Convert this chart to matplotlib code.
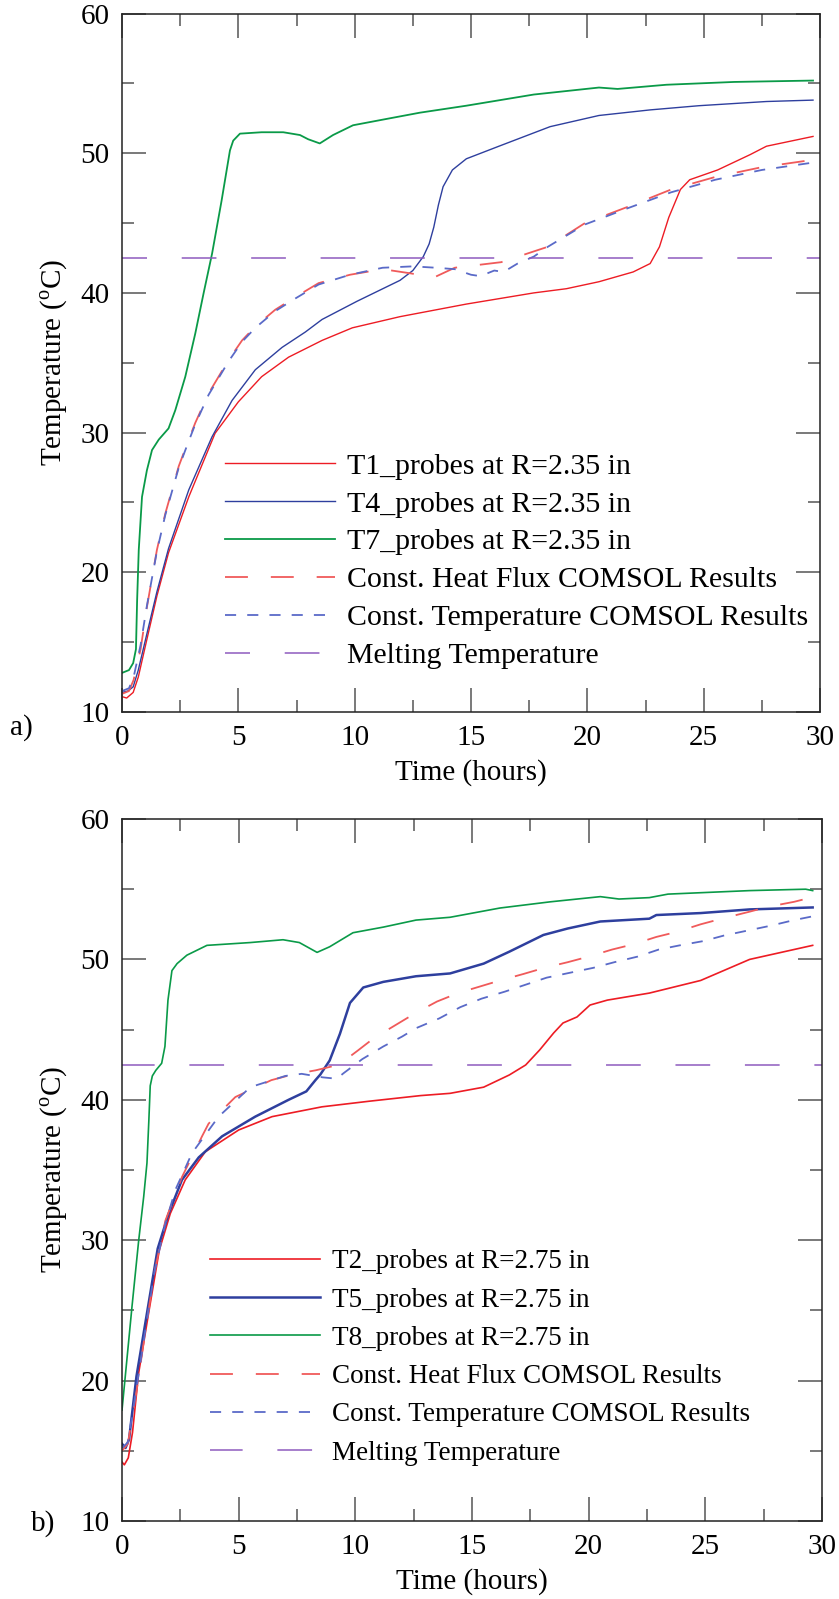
import numpy as np
import matplotlib
matplotlib.use('Agg')
import matplotlib.pyplot as plt

plt.rcParams['font.family'] = ['Liberation Serif', 'DejaVu Serif']
plt.rcParams['mathtext.fontset'] = 'custom'
plt.rcParams['mathtext.rm'] = 'Liberation Serif'
plt.rcParams['lines.scale_dashes'] = False

# ---------------- panel a) : R = 2.35 in ----------------
t_T1 = [0, 0.2, 0.48, 0.7, 1.07, 1.5, 2.0, 2.87, 4.0, 5.0, 6.0, 7.16, 8.6, 9.9, 11.95, 14.8, 17.7,
        19.1, 20.5, 21.97, 22.7, 23.1, 23.5, 24.0, 24.4, 25.6, 27.0, 27.7, 29.7]
T1 = [11.1, 11.0, 11.4, 12.5, 15.2, 18.3, 21.4, 25.4, 29.95, 32.2, 34.0, 35.4, 36.6, 37.5, 38.3, 39.2, 40.0,
      40.3, 40.8, 41.5, 42.1, 43.3, 45.4, 47.4, 48.1, 48.8, 49.9, 50.5, 51.2]

t_T4 = [0, 0.25, 0.48, 0.7, 1.07, 1.5, 2.0, 2.87, 3.87, 4.73, 5.73, 6.88, 7.88, 8.6, 10.1, 11.95, 12.5,
        12.95, 13.2, 13.4, 13.6, 13.8, 14.2, 14.8, 16.2, 18.4, 20.5, 22.7, 24.8, 27.7, 29.7]
T4 = [11.4, 11.5, 11.8, 13.0, 15.6, 18.6, 21.7, 25.9, 29.7, 32.3, 34.5, 36.1, 37.2, 38.1, 39.4, 40.9, 41.6,
      42.6, 43.5, 44.7, 46.3, 47.6, 48.8, 49.6, 50.5, 51.9, 52.7, 53.1, 53.4, 53.7, 53.8]

t_T7 = [0, 0.3, 0.48, 0.6, 0.65, 0.72, 0.86, 1.07, 1.29, 1.58, 2.0, 2.29, 2.72, 3.15, 3.51, 3.87, 4.28,
        4.64, 4.78, 5.07, 6.0, 6.93, 7.65, 8.0, 8.5, 9.07, 9.93, 11.2, 12.8, 14.8, 17.7, 20.5, 21.3,
        23.4, 26.3, 29.7]
T7 = [12.8, 13.0, 13.5, 14.5, 18.0, 21.6, 25.4, 27.3, 28.75, 29.5, 30.3, 31.6, 34.0, 37.1, 40.0, 42.8, 46.6,
      50.2, 50.9, 51.4, 51.5, 51.5, 51.3, 51.0, 50.7, 51.3, 52.0, 52.4, 52.9, 53.4, 54.2, 54.7, 54.6,
      54.9, 55.1, 55.2]

t_flux_a = [0, 0.3, 0.5, 0.8, 1.07, 1.5, 1.86, 2.44, 2.87, 3.15, 3.72, 4.15, 4.58, 5.16, 5.73, 6.59, 7.45,
            8.45, 9.8, 11.2, 12.4, 13.4, 14.3, 16.3, 18.3, 19.9, 21.8, 23.6, 25.5, 27.5, 30]
flux_a = [11.3, 11.5, 12.3, 14.5, 17.5, 21.6, 24.2, 27.6, 29.5, 30.7, 32.8, 34.0, 35.2, 36.6, 37.6, 38.8, 39.7,
          40.7, 41.3, 41.7, 41.4, 41.1, 41.8, 42.2, 43.3, 45.0, 46.2, 47.4, 48.3, 49.0, 49.6]

t_temp_a = [0, 0.3, 0.5, 0.8, 1.07, 1.5, 1.86, 2.44, 2.87, 3.15, 3.72, 4.15, 4.58, 5.16, 5.73, 6.59, 7.45,
            8.45, 9.8, 11.2, 12.5, 13.5, 14.3, 15.0, 15.4, 16.0, 16.4, 17.0, 17.7, 18.3, 19.9, 21.8,
            23.6, 25.5, 27.5, 30]
temp_a = [11.5, 11.7, 12.5, 14.8, 17.6, 21.5, 24.1, 27.5, 29.4, 30.6, 32.7, 33.9, 35.1, 36.5, 37.5, 38.7, 39.6,
          40.6, 41.3, 41.8, 41.9, 41.8, 41.7, 41.3, 41.2, 41.6, 41.5, 42.1, 42.6, 43.3, 44.9, 46.1,
          47.2, 48.1, 48.8, 49.4]

# ---------------- panel b) : R = 2.75 in ----------------
t_T2 = [0, 0.1, 0.27, 0.45, 0.71, 1.14, 1.6, 2.07, 2.71, 3.57, 5.0, 6.43, 8.57, 10.6, 12.8, 14.06, 15.5,
        16.6, 17.3, 17.9, 18.5, 18.9, 19.5, 20.06, 20.8, 22.6, 24.8, 26.9, 29.6]
T2 = [14.2, 14.0, 14.5, 16.3, 20.5, 24.8, 29.3, 31.9, 34.3, 36.3, 37.85, 38.8, 39.5, 39.9, 40.3, 40.46, 40.9,
      41.77, 42.48, 43.55, 44.76, 45.47, 45.9, 46.75, 47.1, 47.6, 48.5, 50.0, 51.0]

t_T5 = [0, 0.15, 0.3, 0.62, 1.07, 1.53, 2.0, 2.57, 3.29, 4.29, 5.71, 7.14, 7.9, 8.29, 8.5, 8.9, 9.34,
        9.77, 10.34, 11.2, 12.6, 14.06, 15.5, 16.6, 18.06, 19.1, 20.5, 22.6, 22.9, 24.8, 26.9, 29.6]
T5 = [15.5, 15.2, 15.8, 20.3, 24.8, 29.4, 31.9, 34.3, 35.9, 37.4, 38.8, 40.0, 40.6, 41.4, 41.8, 42.8, 44.7,
      46.9, 48.0, 48.4, 48.8, 49.0, 49.7, 50.55, 51.74, 52.2, 52.7, 52.9, 53.16, 53.3, 53.56, 53.7]

t_T8 = [0, 0.14, 0.43, 0.71, 0.93, 1.07, 1.15, 1.21, 1.3, 1.45, 1.7, 1.84, 1.97, 2.14, 2.36, 2.78, 3.64,
        5.5, 6.9, 7.6, 8.36, 8.9, 9.9, 11.2, 12.6, 14.06, 16.2, 18.35, 20.5, 21.3, 22.6, 23.4, 24.8,
        26.9, 29.3, 29.6]
T8 = [17.9, 20.3, 25.3, 29.9, 33.1, 35.5, 38.5, 41.0, 41.7, 42.1, 42.6, 43.8, 47.1, 49.2, 49.7, 50.3, 51.0,
      51.2, 51.4, 51.2, 50.5, 50.9, 51.9, 52.3, 52.8, 53.0, 53.66, 54.1, 54.47, 54.3, 54.4, 54.65, 54.75,
      54.9, 55.0, 54.9]

t_flux_b = [0, 0.25, 0.6, 1.0, 1.4, 1.86, 2.57, 3.43, 3.71, 4.86, 6.4, 7.3, 8.3, 9.3, 10.1, 10.8, 11.9,
            12.6, 13.5, 14.4, 15.3, 16.2, 17.2, 18.1, 19.1, 20.0, 21.0, 21.9, 22.9, 23.8, 24.8, 25.7,
            26.9, 27.7, 28.8, 30]
flux_b = [15.0, 15.5, 19.0, 23.5, 27.8, 31.4, 34.5, 37.4, 38.3, 40.2, 41.4, 41.8, 42.1, 42.5, 43.5, 44.4, 45.5,
          46.2, 47.0, 47.6, 48.05, 48.5, 48.96, 49.4, 49.8, 50.2, 50.7, 51.07, 51.6, 51.97, 52.5, 52.9,
          53.4, 53.75, 54.1, 54.6]

t_temp_b = [0, 0.25, 0.6, 1.0, 1.4, 1.86, 2.29, 3.0, 4.14, 5.5, 7.0, 7.7, 8.6, 9.2, 9.5, 10.3, 11.2,
            12.0, 12.6, 13.6, 14.5, 15.4, 16.4, 17.3, 18.2, 19.2, 20.2, 21.1, 22.1, 23.0, 23.9, 24.9,
            25.8, 26.8, 27.8, 28.8, 30]
temp_b = [15.2, 15.6, 19.2, 23.6, 27.8, 31.2, 33.6, 36.2, 38.8, 40.9, 41.7, 41.85, 41.6, 41.5, 41.9, 42.9, 43.8,
          44.5, 45.1, 45.8, 46.6, 47.2, 47.7, 48.2, 48.7, 49.05, 49.4, 49.8, 50.2, 50.7, 51.0, 51.3,
          51.7, 52.05, 52.4, 52.8, 53.2]

t_melt = [0, 30]
T_melt = [42.5, 42.5]

c_rosso = '#ed1c24'
c_blu = '#2e3f9e'
c_verde = '#0a9a48'
c_flux = '#f05a5a'
c_temp = '#5a6ac8'
c_melt = '#8e5bbf'

fig = plt.figure(figsize=(8.39, 15.99), dpi=100)
ax_a = fig.add_axes([122/839, 1-712/1599, 698/839, 698.5/1599])
ax_b = fig.add_axes([122/839, 1-1521/1599, 700/839, 702/1599])

pannelli = [
    (ax_a, 'a)', (10/839, 1-728/1599), 'R=2.35 in', ['T1', 'T4', 'T7'],
     [(t_T1, T1), (t_T4, T4), (t_T7, T7)], (t_flux_a, flux_a), (t_temp_a, temp_a),
     [1.0, 1.0, 1.3], 21.5, 0.37, (225/839, 1-561/1599), 7.0),
    (ax_b, 'b)', (31/839, 1-1524/1599), 'R=2.75 in', ['T2', 'T5', 'T8'],
     [(t_T2, T2), (t_T5, T5), (t_T8, T8)], (t_flux_b, flux_b), (t_temp_b, temp_b),
     [1.2, 1.8, 1.2], 19.5, 0.49, (210/839, 1-1357.5/1599), 1.5),
]

for ax, tag, tag_pos, raggio, nomi, misure, flux, temp, lws, fs_leg, spazio, leg_pos, off in pannelli:
    colori = [c_rosso, c_blu, c_verde]
    for (t, T), nome, col, lw in zip(misure, nomi, colori, lws):
        ax.plot(t, T, color=col, lw=lw, label=f'{nome}_probes at {raggio}')
    ax.plot(flux[0], flux[1], color=c_flux, lw=1.3, dashes=(16.5, 16.5),
            label='Const. Heat Flux COMSOL Results')
    ax.plot(temp[0], temp[1], color=c_temp, lw=1.3, dashes=(8, 8),
            label='Const. Temperature COMSOL Results')
    ax.plot(t_melt, T_melt, color=c_melt, lw=1.1, linestyle=(off, (25, 25)),
            label='Melting Temperature')

    ax.set_xlim(0, 30)
    ax.set_ylim(10, 60)
    ax.set_xticks(np.arange(0, 31, 5))
    ax.set_yticks(np.arange(10, 61, 10))
    ax.set_xticks(np.arange(2.5, 30, 5), minor=True)
    ax.set_yticks(np.arange(15, 60, 10), minor=True)
    ax.tick_params(which='both', direction='in', top=True, right=True, color='#555555',
                   width=1.1, labelsize=21)
    ax.tick_params(axis='y', which='both', pad=9)
    ax.tick_params(axis='x', which='both', pad=9)
    ax.tick_params(which='major', length=17)
    ax.tick_params(which='minor', length=8.5)
    for sp in ax.spines.values():
        sp.set_linewidth(1.1)
        sp.set_color('#222222')

    ax.set_xlabel('Time (hours)', fontsize=21, labelpad=6)
    ax.set_ylabel(r'Temperature ($^{\mathrm{o}}$C)', fontsize=21)
    ax.yaxis.set_label_coords(-0.074, 0.5)

    fs_px = fs_leg * 100 / 72
    ax.legend(loc='center left', bbox_to_anchor=leg_pos, bbox_transform=fig.transFigure,
              frameon=False, fontsize=fs_leg, borderpad=0, borderaxespad=0,
              handlelength=110/fs_px, handletextpad=12/fs_px, labelspacing=spazio)

    fig.text(tag_pos[0], tag_pos[1], tag, fontsize=21, ha='left', va='center')

fig.savefig('out.png', dpi=100)
